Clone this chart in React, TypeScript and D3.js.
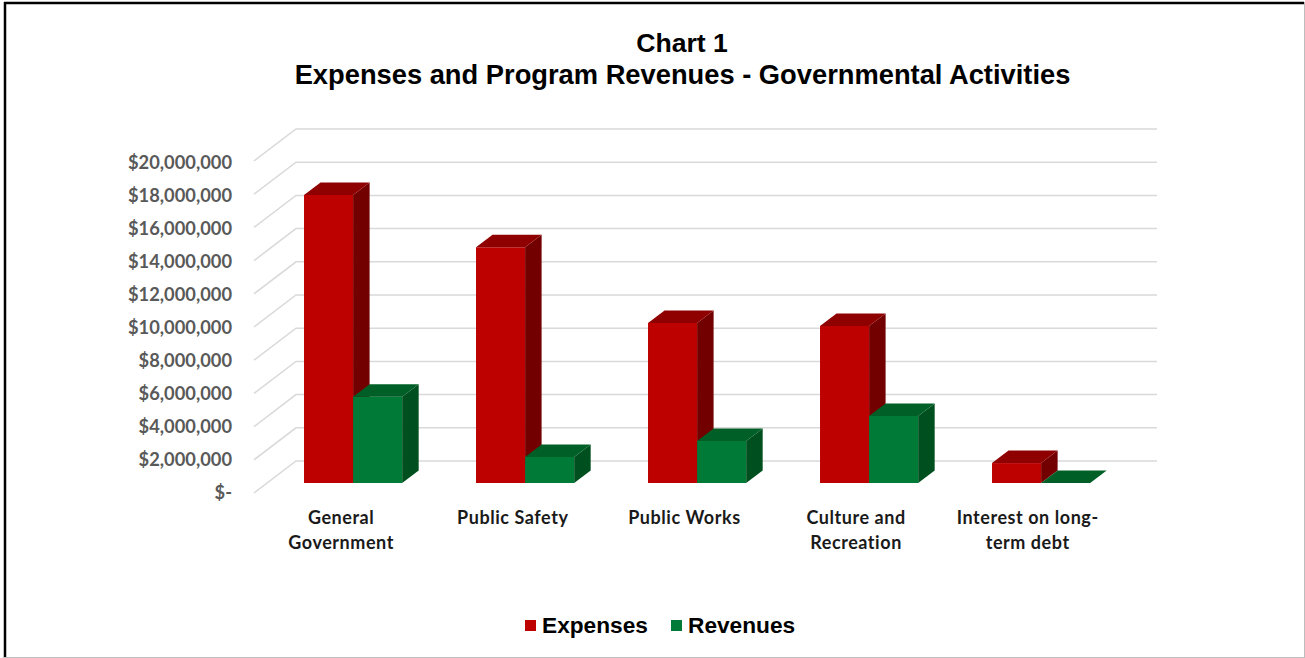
import React, { useEffect, useRef } from 'react';
import * as d3 from 'd3';

const categories = [
  ['General', 'Government'],
  ['Public Safety'],
  ['Public Works'],
  ['Culture and', 'Recreation'],
  ['Interest on long-', 'term debt'],
];
const seriesNames = ['Expenses', 'Revenues'];
const expenses = [17350000, 14200000, 9640000, 9460000, 1200000];
const revenues = [5200000, 1570000, 2530000, 4040000, 0];
const tickValues = [0, 2000000, 4000000, 6000000, 8000000, 10000000, 12000000, 14000000, 16000000, 18000000, 20000000];

const width = 1305;
const height = 658;
const colors = {
  Expenses: { front: '#bd0000', top: '#8f0000', side: '#730000' },
  Revenues: { front: '#007a37', top: '#005f26', side: '#00501f' },
};

const tickFormat = (d: number) => (d === 0 ? '$-' : `$${d3.format(',')(d)}`);

export default function App() {
  const svgRef = useRef<SVGSVGElement>(null);

  useEffect(() => {
    if (!svgRef.current) return;
    const svg = d3.select(svgRef.current);
    svg.selectAll('*').remove();

    // Outer frame
    svg.append('rect').attr('width', width).attr('height', height).attr('fill', '#fff');
    svg.append('line').attr('x1', 4).attr('x2', 1304).attr('y1', 3).attr('y2', 3).attr('stroke', '#000').attr('stroke-width', 2.5);
    svg.append('line').attr('x1', 5).attr('x2', 5).attr('y1', 2).attr('y2', 658).attr('stroke', '#000').attr('stroke-width', 2.5);
    svg.append('line').attr('x1', 1304.5).attr('x2', 1304.5).attr('y1', 2).attr('y2', 658).attr('stroke', '#bdbdbd');
    svg.append('line').attr('x1', 4).attr('x2', 1305).attr('y1', 657.5).attr('y2', 657.5).attr('stroke', '#bdbdbd');

    // Scales, y is the back wall, the bars sit further forward
    const yScale = d3.scaleLinear().domain([0, 20000000]).range([461, 129]);
    const labelScale = d3.scaleLinear().domain([0, 20000000]).range([492.5, 162.5]);
    const wallDx = 42;
    const wallDy = 32;
    const wallX0 = 296;
    const wallX1 = 1157;
    const barOffsetX = wallDx - 29;
    const barOffsetY = 22;
    const depthX = 16.5;
    const depthY = 12.5;

    const gap = 0.43;
    const xScale = d3.scaleBand<number>()
      .domain(d3.range(categories.length))
      .range([wallX0 - wallDx + barOffsetX, wallX1 - wallDx + barOffsetX])
      .paddingInner(gap)
      .paddingOuter(gap / 2);
    const seriesScale = d3.scaleBand<string>().domain(seriesNames).range([0, xScale.bandwidth()]);

    // Grid
    const grid = svg.append('g');
    tickValues.forEach(t => {
      const y = yScale(t);
      grid.append('path')
        .attr('d', `M${wallX0 - wallDx},${y + wallDy}L${wallX0},${y}L${wallX1},${y}`)
        .attr('fill', 'none')
        .attr('stroke', '#d9d9d9')
        .attr('stroke-width', 1.5);
      svg.append('text')
        .attr('x', 232)
        .attr('y', labelScale(t))
        .attr('dy', '0.35em')
        .attr('text-anchor', 'end')
        .attr('font-family', 'Lato')
        .attr('font-weight', 700)
        .attr('font-size', 18.3)
        .attr('fill', '#595959')
        .text(tickFormat(t));
    });

    // Bars
    const baseY = yScale(0) + barOffsetY;
    const barH = (v: number) => yScale(0) - yScale(v);
    const bars = svg.append('g');
    categories.forEach((_, i) => {
      seriesNames.forEach((name, s) => {
        const v = (s === 0 ? expenses : revenues)[i];
        const c = colors[name as keyof typeof colors];
        const x0 = (xScale(i) as number) + (seriesScale(name) as number) - i * 0.2;
        const x1 = x0 + seriesScale.bandwidth();
        const yTop = baseY - barH(v);
        if (v > 0) {
          bars.append('rect').attr('x', x0).attr('y', yTop).attr('width', x1 - x0).attr('height', barH(v)).attr('fill', c.front);
          bars.append('path')
            .attr('d', `M${x1},${yTop}L${x1 + depthX},${yTop - depthY}L${x1 + depthX},${baseY - depthY}L${x1},${baseY}Z`)
            .attr('fill', c.side);
        }
        bars.append('path')
          .attr('d', `M${x0},${yTop}L${x0 + depthX},${yTop - depthY}L${x1 + depthX},${yTop - depthY}L${x1},${yTop}Z`)
          .attr('fill', c.top);
      });
    });

    // Category labels
    categories.forEach((lines, i) => {
      const cx = (xScale(i) as number) + xScale.bandwidth() / 2 - 12 - i * 0.55;
      lines.forEach((line, j) => {
        svg.append('text')
          .attr('x', cx)
          .attr('y', 524 + j * 25)
          .attr('text-anchor', 'middle')
          .attr('font-family', 'Lato')
          .attr('font-weight', 700)
          .attr('font-size', 18)
          .attr('letter-spacing', 0.55)
          .attr('fill', '#1a1a1a')
          .text(line);
      });
    });

    // Title
    const title = svg.append('g')
      .attr('text-anchor', 'middle')
      .attr('font-family', 'Liberation Sans')
      .attr('font-weight', 700)
      .attr('fill', '#000');
    title.append('text').attr('x', 682).attr('y', 52).attr('font-size', 26.6).text('Chart 1');
    title.append('text').attr('x', 682.5).attr('y', 84).attr('font-size', 27.3).text('Expenses and Program Revenues - Governmental Activities');

    // Legend
    const legendX = [525, 671];
    seriesNames.forEach((name, s) => {
      const c = colors[name as keyof typeof colors];
      svg.append('rect').attr('x', legendX[s]).attr('y', 620).attr('width', 11).attr('height', 11).attr('fill', c.front);
      svg.append('text')
        .attr('x', legendX[s] + 17)
        .attr('y', 633)
        .attr('font-family', 'Liberation Sans')
        .attr('font-weight', 700)
        .attr('font-size', 22.7)
        .attr('fill', '#000')
        .text(name);
    });
  }, []);

  return <svg ref={svgRef} width={width} height={height} style={{ position: 'absolute', left: 0, top: 0, display: 'block' }} />;
}
